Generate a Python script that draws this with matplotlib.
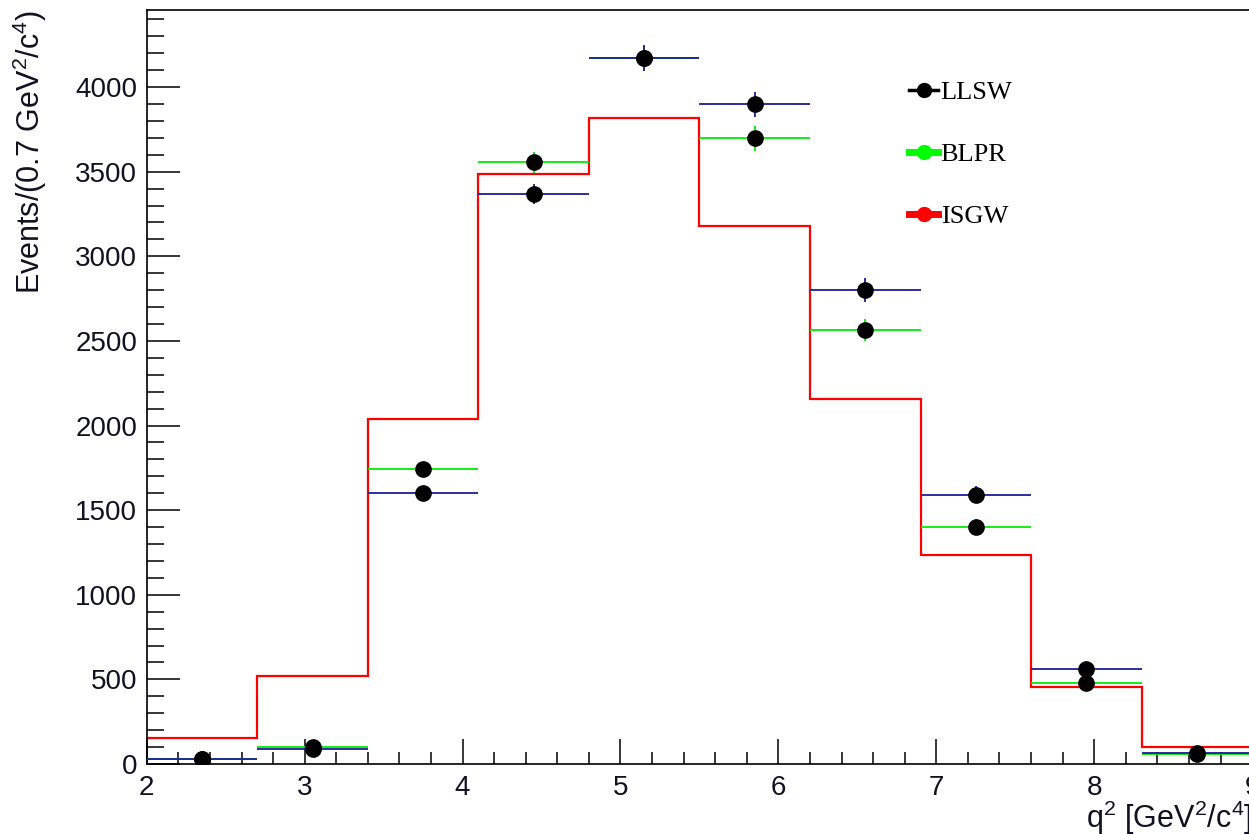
import numpy as np
import matplotlib
matplotlib.use("Agg")
import matplotlib.pyplot as plt
from matplotlib.lines import Line2D
from matplotlib.ticker import MultipleLocator

plt.rcParams['font.family'] = ['Liberation Sans', 'DejaVu Sans']
plt.rcParams['mathtext.fontset'] = 'custom'
plt.rcParams['mathtext.rm'] = 'Liberation Sans'
plt.rcParams['mathtext.it'] = 'Liberation Sans:italic'

# q^2 binning, 0.7 GeV^2/c^4 per bin
q2_edges = [2.0, 2.7, 3.4, 4.1, 4.8, 5.5, 6.2, 6.9, 7.6, 8.3, 9.0]

# model predictions per bin
isgw = [152, 520, 2040, 3485, 3815, 3178, 2158, 1236, 457, 99]
llsw = [32, 90, 1602, 3367, 4172, 3899, 2799, 1591, 563, 63]
llsw_err = [6, 10, 40, 58, 75, 74, 70, 50, 30, 8]
blpr = [30, 101, 1745, 3555, 4170, 3698, 2562, 1402, 480, 59]
blpr_err = [6, 10, 42, 62, 75, 74, 65, 48, 28, 8]

edges = np.array(q2_edges)
centers = 0.5 * (edges[:-1] + edges[1:])
half_w = 0.5 * np.diff(edges)

fig = plt.figure(figsize=(12.49, 8.34), dpi=100)
ax = fig.add_axes([0.1175, 0.0839, 0.885, 0.904])

ax.stairs(isgw, edges, baseline=None, color='#ff0000', lw=1.6, zorder=2)

ax.errorbar(centers, blpr, xerr=half_w, yerr=blpr_err, fmt='o', ms=11,
            mfc='black', mec='black', ecolor='#00ee00', elinewidth=1.3,
            capsize=0, zorder=3)
ax.errorbar(centers, llsw, xerr=half_w, yerr=llsw_err, fmt='o', ms=11,
            mfc='black', mec='black', ecolor='#1c1c9c', elinewidth=1.3,
            capsize=0, zorder=4)

ax.set_xlim(2, 9)
ax.set_ylim(0, 4455)

ax.xaxis.set_major_locator(MultipleLocator(1))
ax.xaxis.set_minor_locator(MultipleLocator(0.2))
ax.yaxis.set_major_locator(MultipleLocator(500))
ax.yaxis.set_minor_locator(MultipleLocator(100))

ax.tick_params(axis='both', which='both', direction='in', width=1.1,
               labelsize=20, labelcolor='#111122', top=False, right=False)
ax.tick_params(axis='x', which='major', length=18, pad=8)
ax.tick_params(axis='x', which='minor', length=9)
ax.tick_params(axis='y', which='major', length=24, pad=7)
ax.tick_params(axis='y', which='minor', length=12)
for sp in ax.spines.values():
    sp.set_linewidth(1.2)

ax.set_xlabel(r'q$^2$ [GeV$^2$/c$^4$]', fontsize=22, color='#111122',
              loc='right')
ax.xaxis.set_label_coords(1.0, -0.046)
ax.set_ylabel(r'Events/(0.7 GeV$^2$/c$^4$)', fontsize=22, color='#111122',
              loc='top')
ax.yaxis.set_label_coords(-0.088, 1.0)

handles = [
    Line2D([], [], color='black', lw=2.5, marker='o', ms=10,
           mfc='black', mec='black'),
    Line2D([], [], color='#00ff00', lw=5, marker='o', ms=10,
           mfc='#00ff00', mec='#00ff00'),
    Line2D([], [], color='#ff0000', lw=5, marker='o', ms=10,
           mfc='#ff0000', mec='#ff0000'),
]
ax.legend(handles, ['LLSW', 'BLPR', 'ISGW'], frameon=False,
          prop={'family': 'Liberation Serif', 'size': 19},
          loc='upper left', bbox_to_anchor=(909 / 1249, 1 - 81 / 834),
          bbox_transform=fig.transFigure, borderpad=0, borderaxespad=0,
          handlelength=1.1, handletextpad=0.1, labelspacing=1.45)

fig.savefig('out.png', dpi=100)
